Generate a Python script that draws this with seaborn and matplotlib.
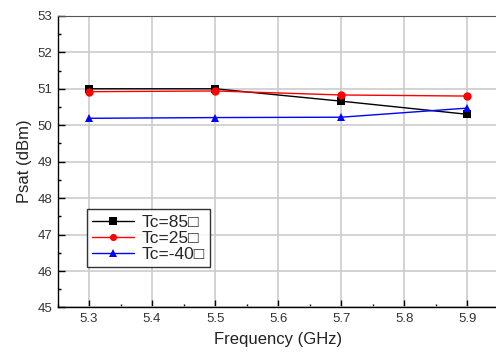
import pandas as pd
import matplotlib
matplotlib.use("Agg")
import matplotlib.pyplot as plt
import seaborn as sns
from matplotlib.ticker import MultipleLocator

freq = [5.3, 5.5, 5.7, 5.9]
tc85 = [51.0, 51.0, 50.66, 50.30]
tc25 = [50.92, 50.94, 50.83, 50.80]
tc_m40 = [50.19, 50.21, 50.22, 50.47]
labels = ["Tc=85\u25a1", "Tc=25\u25a1", "Tc=-40\u25a1"]

df = pd.DataFrame({
    "freq": freq * 3,
    "psat": tc85 + tc25 + tc_m40,
    "series": [labels[0]] * 4 + [labels[1]] * 4 + [labels[2]] * 4,
})

sns.set_style("white")
plt.rcParams["font.family"] = ["Liberation Sans", "DejaVu Sans"]

fig = plt.figure(figsize=(4.96, 3.53), dpi=100)
ax = fig.add_axes([0.116, 0.129, 0.8896, 0.826])

palette = {labels[0]: "black", labels[1]: "red", labels[2]: "blue"}
markers = {labels[0]: "s", labels[1]: "o", labels[2]: "^"}
sns.lineplot(data=df, x="freq", y="psat", hue="series", style="series",
             palette=palette, markers=markers, dashes=False, linewidth=1.0,
             markersize=6, markeredgewidth=0, ax=ax)

ax.set_xlim(5.25, 5.95)
ax.set_ylim(45, 53)
ax.xaxis.set_minor_locator(MultipleLocator(0.05))
ax.yaxis.set_major_locator(MultipleLocator(1))
ax.yaxis.set_minor_locator(MultipleLocator(0.5))
ax.set_xticks([5.3, 5.4, 5.5, 5.6, 5.7, 5.8, 5.9])
ax.grid(True, which="major", color="#cccccc", linewidth=1.2)
ax.set_axisbelow(True)

ax.tick_params(which="major", direction="in", length=5, width=1, color="black",
               labelsize=9.5, labelcolor="#333333", pad=4)
ax.tick_params(which="minor", direction="in", length=2.5, width=1, color="black")
ax.tick_params(axis="both", which="both", left=True, bottom=True)

for side in ["left", "bottom"]:
    ax.spines[side].set_color("black")
    ax.spines[side].set_linewidth(1.0)
ax.spines["top"].set_color("#555555")
ax.spines["right"].set_visible(False)

ax.set_xlabel("Frequency (GHz)", fontsize=12, color="#222222", labelpad=5)
ax.set_ylabel("Psat (dBm)", fontsize=12, color="#222222", labelpad=4)

leg = ax.legend(loc="lower left", bbox_to_anchor=(0.067, 0.139), fontsize=12.5,
                frameon=True, fancybox=False, edgecolor="black",
                handlelength=2.4, handletextpad=0.45, borderpad=0.3,
                labelspacing=0.05, borderaxespad=0, markerscale=0.85)
leg.get_frame().set_linewidth(1.0)

fig.savefig("out.png", dpi=100)
